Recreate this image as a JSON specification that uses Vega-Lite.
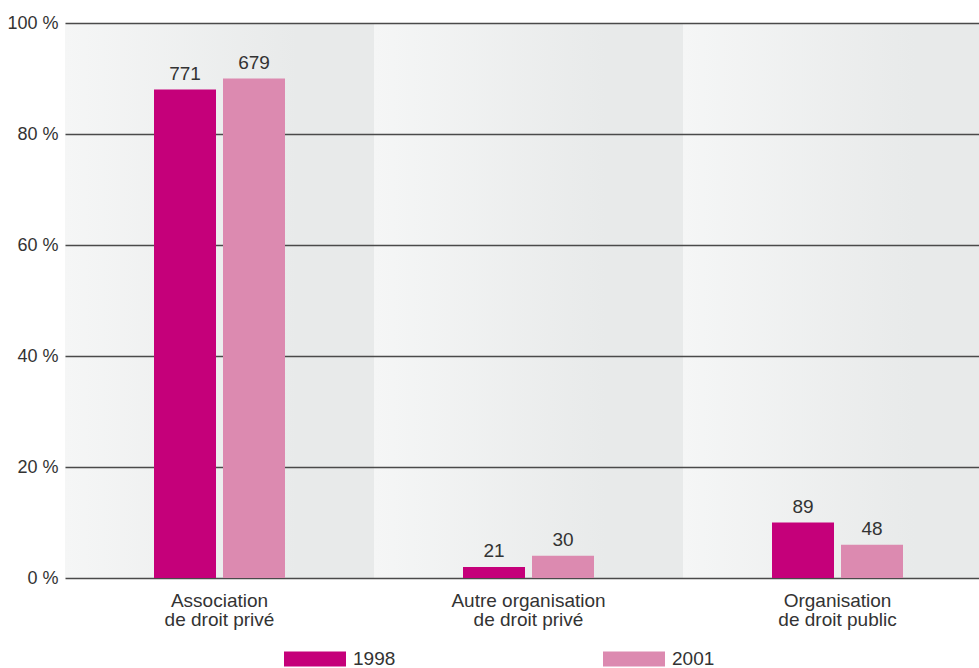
{
  "$schema": "https://vega.github.io/schema/vega-lite/v6.json",
  "autosize": {"type": "none"},
  "padding": {"left": 65, "top": 23, "right": 0, "bottom": 90},
  "width": 927,
  "height": 555,
  "background": "white",
  "config": {
    "font": "Liberation Sans",
    "view": {
      "stroke": null,
      "fill": {
        "gradient": "linear", "x1": 0, "y1": 0, "x2": 1, "y2": 0,
        "stops": [
          {"offset": 0, "color": "#f5f6f6"},
          {"offset": 0.25, "color": "#e8eaea"},
          {"offset": 0.3333, "color": "#e8eaea"},
          {"offset": 0.3334, "color": "#f5f6f6"},
          {"offset": 0.5833, "color": "#e8eaea"},
          {"offset": 0.6666, "color": "#e8eaea"},
          {"offset": 0.6667, "color": "#f5f6f6"},
          {"offset": 0.9167, "color": "#e8eaea"},
          {"offset": 1, "color": "#e8eaea"}
        ]
      }
    }
  },
  "data": {
    "values": [
      {"cat": "Association de droit privé", "year": "1998", "pct": 88, "n": 771},
      {"cat": "Association de droit privé", "year": "2001", "pct": 90, "n": 679},
      {"cat": "Autre organisation de droit privé", "year": "1998", "pct": 2, "n": 21},
      {"cat": "Autre organisation de droit privé", "year": "2001", "pct": 4, "n": 30},
      {"cat": "Organisation de droit public", "year": "1998", "pct": 10, "n": 89},
      {"cat": "Organisation de droit public", "year": "2001", "pct": 6, "n": 48}
    ]
  },
  "encoding": {
    "x": {
      "field": "cat", "type": "nominal", "sort": null,
      "scale": {"paddingInner": 0, "paddingOuter": 0},
      "axis": {
        "title": null, "domain": false, "ticks": false, "labelAngle": 0,
        "labelPadding": 13, "labelFontSize": 19, "labelColor": "#333333",
        "labelLineHeight": 19, "labelBaseline": "top",
        "labelExpr": "datum.label == 'Association de droit privé' ? ['Association', 'de droit privé'] : datum.label == 'Autre organisation de droit privé' ? ['Autre organisation', 'de droit privé'] : ['Organisation', 'de droit public']"
      }
    },
    "xOffset": {
      "field": "year", "type": "nominal",
      "scale": {"domain": ["_a", "1998", "2001", "_b"], "paddingInner": 0.1014, "paddingOuter": 0.29}
    },
    "y": {
      "field": "pct", "type": "quantitative",
      "scale": {"domain": [0, 100], "nice": false},
      "axis": {
        "title": null, "domain": false, "ticks": false,
        "values": [0, 20, 40, 60, 80, 100],
        "grid": true, "gridColor": "#4a4a4a", "gridWidth": 1.5,
        "labelFontSize": 18, "labelColor": "#333333", "labelPadding": 7,
        "labelExpr": "datum.value + ' %'"
      }
    }
  },
  "layer": [
    {
      "mark": {"type": "bar"},
      "encoding": {
        "color": {
          "field": "year", "type": "nominal",
          "scale": {"domain": ["1998", "2001"], "range": ["#c5007a", "#dc8ab0"]},
          "legend": {
            "title": null, "orient": "none", "direction": "horizontal",
            "legendX": 219, "legendY": 605, "padding": 0,
            "symbolType": "M-1,-0.242H1V0.242H-1Z", "symbolSize": 3844,
            "symbolStrokeWidth": 0, "symbolOpacity": 1,
            "labelFontSize": 19, "labelColor": "#333333", "labelOffset": 7,
            "columnPadding": 207
          }
        }
      }
    },
    {
      "mark": {"type": "text", "baseline": "alphabetic", "dy": -10, "fontSize": 19, "color": "#333333"},
      "encoding": {
        "text": {"field": "n", "type": "quantitative"}
      }
    }
  ]
}
